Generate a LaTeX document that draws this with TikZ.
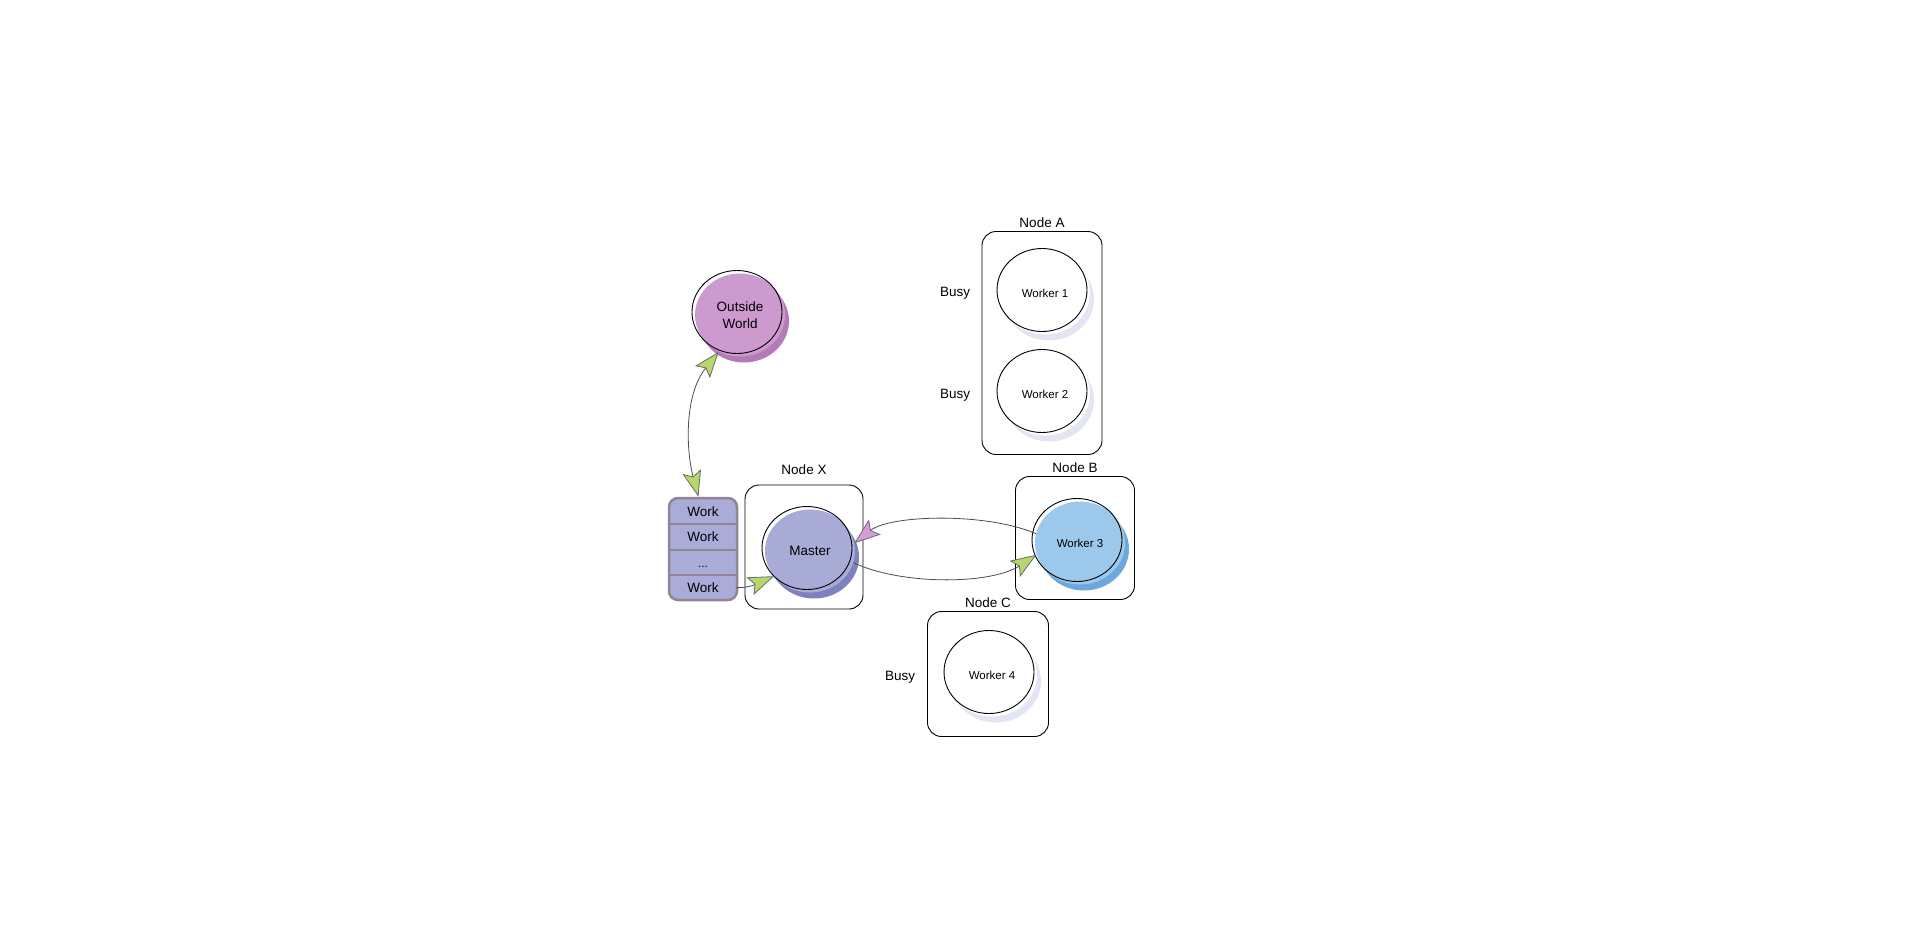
\documentclass[tikz,border=0pt]{standalone}
\usepackage{fontspec}
\setmainfont{Liberation Sans}
\usetikzlibrary{shapes.geometric,arrows.meta,positioning}
\definecolor{worldlight}{HTML}{CD9ACF}
\definecolor{worlddark}{HTML}{B47BB9}
\definecolor{masterlight}{HTML}{A7ABD6}
\definecolor{masterdark}{HTML}{7D82BE}
\definecolor{busylight}{HTML}{9CC8EC}
\definecolor{busydark}{HTML}{6CA8DB}
\definecolor{idleshade}{HTML}{E3E5F3}
\definecolor{queuefill}{HTML}{A9ACD8}
\definecolor{queueedge}{HTML}{918595}
\definecolor{tipgreen}{HTML}{B7D66B}
\definecolor{tippink}{HTML}{D89BDA}
\definecolor{tipedge}{HTML}{6B6B6B}
\tikzset{
    gtip/.tip={Stealth[length=26bp,width=19bp,inset=5bp,line width=0.8bp,color=tipedge,fill=tipgreen]},
    ptip/.tip={Stealth[length=26bp,width=19bp,inset=5bp,line width=0.8bp,color=tipedge,fill=tippink]},
    blob/.style 2 args={proc, fill=#1,
        preaction={fill=#2, transform canvas={shift={(4bp,-6bp)}}},
        postaction={draw, line width=0.9bp, transform canvas={shift={(-3bp,3bp)}}}}
}

\begin{document}
\begin{tikzpicture}[x=1bp,y=-1bp]
    \useasboundingbox (0,0) rectangle (1914,931);
    \tikzstyle{every node} = [font=\fontsize{13.5bp}{16.5bp}\selectfont]
    \tikzstyle{host} = [rectangle, draw, line width=0.9bp, rounded corners=14bp, label distance=1bp]
    \tikzstyle{proc} = [ellipse, minimum width=90bp, minimum height=83bp, inner sep=0pt, align=center]
    \tikzstyle{small} = [font=\fontsize{11.5bp}{14bp}\selectfont]
    \tikzstyle{worker} = [blob={white}{idleshade}, small]
    \tikzstyle{queue} = [rectangle, minimum width=68bp, minimum height=102bp, rounded corners=9bp, fill=queuefill, draw=queueedge, line width=2.5bp]
    \tikzstyle{slot} = [rectangle, minimum width=66bp, minimum height=25bp, inner sep=0pt]
    \tikzstyle{sep} = [draw=queueedge, line width=2bp]
    \tikzstyle{link} = [draw=black!70, line width=0.8bp]

    \node[host, minimum width=120bp, minimum height=223bp, label={above:Node A}] (hosta) at (1042,343) {};
    \node[host, minimum width=118bp, minimum height=124bp, label={[label distance=6bp]above:Node X}] (hostx) at (804,547) {};
    \node[host, minimum width=119bp, minimum height=123bp, label={above:Node B}] (hostb) at (1075,538) {};
    \node[host, minimum width=121bp, minimum height=125bp, label={above:Node C}] (hostc) at (988,674) {};

    \node[blob={worldlight}{worlddark}] (world) at (740,315) {Outside\\World};
    \node[blob={masterlight}{masterdark}] (master) at (810,551) {Master};
    \node[worker] (w1) at (1045,293) {Worker 1};
    \node[worker] (w2) at (1045,394) {Worker 2};
    \node[blob={busylight}{busydark}, small] (w3) at (1080,543) {Worker 3};
    \node[worker] (w4) at (992,675) {Worker 4};

    \node (busy1) at (955,293) {Busy};
    \node (busy2) at (955,395) {Busy};
    \node (busy4) at (900,677) {Busy};

    \node[queue] (jobs) at (703,549) {};
    \node[slot, below=2bp of jobs.north] (q1) {Work};
    \node[slot, below=0pt of q1] (q2) {Work};
    \node[slot, below=0pt of q2, small] (q3) {\raisebox{-5bp}[0pt][0pt]{...}};
    \node[slot, below=0pt of q3] (q4) {Work};
    \foreach \s in {q1,q2,q3}
        \draw[sep] (\s.south west) -- (\s.south east);

    \draw[link, gtip-gtip] (jobs.95) .. controls (686,450) and (684,395) .. (world.240);
    \draw[link, -gtip] (q4.east) .. controls (752,588) and (760,582) .. (master.215);
    \draw[link, -ptip] (w3.168) .. controls (985,512) and (890,515) .. (master.10);
    \draw[link, -gtip] (master.-15) .. controls (900,585) and (990,585) .. (w3.195);
\end{tikzpicture}
\end{document}
